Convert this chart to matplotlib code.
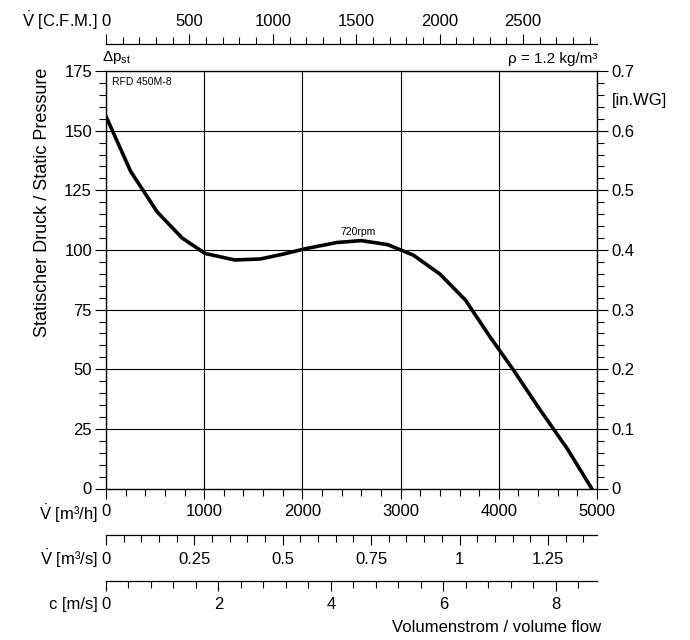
import numpy as np
import matplotlib
matplotlib.use("Agg")
import matplotlib.pyplot as plt
from matplotlib.ticker import MultipleLocator, FuncFormatter

plt.rcParams['font.family'] = ['Liberation Sans', 'DejaVu Sans']
plt.rcParams['mathtext.fontset'] = 'custom'
plt.rcParams['mathtext.rm'] = 'Liberation Sans'
plt.rcParams['mathtext.it'] = 'Liberation Sans'

# ---- data ----
flow_m3h = [0, 250, 520, 775, 1010, 1310, 1570, 1810, 2030, 2350, 2600,
            2870, 3130, 3400, 3660, 3910, 4150, 4400, 4700, 4946]
pressure_pa = [156, 133, 116, 105, 98.5, 95.8, 96.2, 98.3, 100.5, 103.1, 103.9,
               102.2, 97.8, 89.9, 79, 63.6, 49.6, 34.2, 16.5, 0]
curve_label = "720rpm"
model_name = "RFD 450M-8"
x_max_m3h = 5000
y_max_pa = 175
inwg_per_pa = 1 / 250.0
diameter_m = 0.45
cfm_per_m3h = 0.588578

W, H = 690, 640
fig = plt.figure(figsize=(W / 100, H / 100), dpi=100)

L_px, R_px, T_px, B_px = 106, 597, 71, 488.5
L = L_px / W
Wd = (R_px - L_px) / W
ax = fig.add_axes([L, 1 - B_px / H, Wd, (B_px - T_px) / H])

fs = 12
MAJ, MIN = 8.0, 5.2
ax.plot(flow_m3h, pressure_pa, color='black', lw=2.6, solid_joinstyle='round', zorder=5)
ax.set_xlim(0, x_max_m3h)
ax.set_ylim(0, y_max_pa)
ax.xaxis.set_major_locator(MultipleLocator(1000))
ax.xaxis.set_minor_locator(MultipleLocator(200))
ax.yaxis.set_major_locator(MultipleLocator(25))
ax.yaxis.set_minor_locator(MultipleLocator(5))
ax.grid(True, which='major', color='black', lw=0.8)
ax.tick_params(which='major', direction='out', length=MAJ, width=0.8, labelsize=fs, pad=2)
ax.tick_params(axis='x', which='major', length=7.5, pad=4)
ax.tick_params(which='minor', direction='out', length=MIN, width=0.8)
ax.tick_params(axis='x', which='minor', length=4.7)
for s in ax.spines.values():
    s.set_linewidth(0.9)

fig.text(43 / W, 1 - 68 / H, "Statischer Druck / Static Pressure", rotation=90,
         ha='center', va='top', fontsize=13)

ax2 = ax.twinx()
ax2.set_ylim(0, y_max_pa * inwg_per_pa)
ax2.yaxis.set_major_locator(MultipleLocator(0.1))
ax2.yaxis.set_minor_locator(MultipleLocator(0.02))
ax2.yaxis.set_major_formatter(FuncFormatter(lambda v, p: f"{v:g}"))
ax2.tick_params(which='major', direction='out', length=MAJ, width=0.8, labelsize=fs, pad=2)
ax2.tick_params(which='minor', direction='out', length=MIN, width=0.8)

ax.text(0.012, 0.985, model_name, transform=ax.transAxes, ha='left', va='top', fontsize=7.5)
ax.text(2566, 105.6, curve_label, ha='center', va='bottom', fontsize=7.5)
ax.text(-0.008, 1.012, r"$\Delta\mathrm{p}_{\mathrm{st}}$", transform=ax.transAxes,
        ha='left', va='bottom', fontsize=11)
ax.text(1.0, 1.012, "ρ = 1.2 kg/m³", transform=ax.transAxes, ha='right', va='bottom', fontsize=11)
fig.text(612 / W, 1 - 100 / H, "[in.WG]", ha='left', va='center', fontsize=fs)

# ---- top CFM axis ----
axc = fig.add_axes([L, 1 - 44 / H, Wd, 0.0001])
axc.set_xlim(0, x_max_m3h * cfm_per_m3h)
axc.xaxis.set_major_locator(MultipleLocator(500))
axc.xaxis.set_minor_locator(MultipleLocator(100))
axc.xaxis.tick_top()
axc.tick_params(which='major', direction='out', length=7.5, width=0.8, labelsize=fs, pad=3)
axc.tick_params(which='minor', direction='out', length=4.7, width=0.8)
axc.set_yticks([])
for k in ['left', 'right', 'bottom']:
    axc.spines[k].set_visible(False)
axc.spines['top'].set_linewidth(0.9)
axc.patch.set_visible(False)

# ---- bottom secondary axes ----
def bottom_axis(y_px, xmax, major, minor):
    a = fig.add_axes([L, 1 - y_px / H, Wd, 0.0001])
    a.set_xlim(0, xmax)
    a.xaxis.set_major_locator(MultipleLocator(major))
    a.xaxis.set_minor_locator(MultipleLocator(minor))
    a.xaxis.set_major_formatter(FuncFormatter(lambda v, p: f"{v:g}"))
    a.tick_params(which='major', direction='out', length=7.5, width=0.8, labelsize=fs, pad=4.5)
    a.tick_params(which='minor', direction='out', length=4.7, width=0.8)
    a.set_yticks([])
    for k in ['left', 'right', 'top']:
        a.spines[k].set_visible(False)
    a.spines['bottom'].set_linewidth(0.9)
    a.patch.set_visible(False)
    return a

area = np.pi * (diameter_m / 2) ** 2
bottom_axis(535, x_max_m3h / 3600, 0.25, 0.05)
bottom_axis(580.7, x_max_m3h / 3600 / area, 2, 0.4)

lx = 98 / W
fig.text(lx, 1 - 21 / H, r"$\dot{\mathrm{V}}$ [C.F.M.]", ha='right', va='center', fontsize=fs)
fig.text(lx, 1 - 514 / H, r"$\dot{\mathrm{V}}$ [m³/h]", ha='right', va='center', fontsize=fs)
fig.text(lx, 1 - 559 / H, r"$\dot{\mathrm{V}}$ [m³/s]", ha='right', va='center', fontsize=fs)
fig.text(lx, 1 - 604 / H, "c [m/s]", ha='right', va='center', fontsize=fs)
fig.text(601 / W, 1 - 628 / H, "Volumenstrom / volume flow", ha='right', va='center', fontsize=fs)

fig.savefig("out.png", dpi=100, facecolor='white')
